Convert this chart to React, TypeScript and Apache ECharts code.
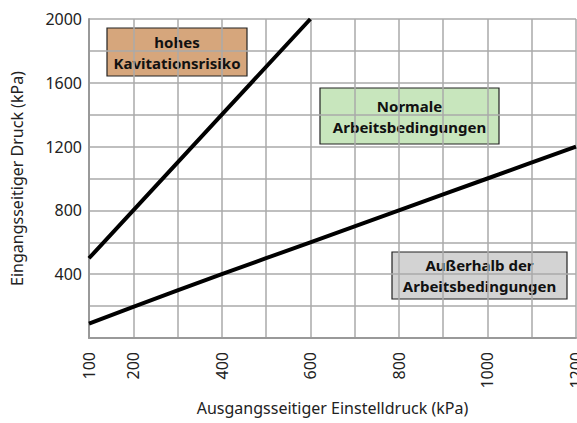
import React, { useEffect, useRef } from "react";
import * as echarts from "echarts";

const xLabels = [100, 200, 400, 600, 800, 1000, 1200];
const yLabels = [400, 800, 1200, 1600, 2000];
const cavitationLine: [number, number][] = [
  [100, 500],
  [200, 800],
  [400, 1400],
  [600, 2000],
];
const lowerLine: [number, number][] = [
  [100, 90],
  [200, 195],
  [400, 400],
  [600, 600],
  [800, 800],
  [1000, 1000],
  [1200, 1200],
];
const xName = "Ausgangsseitiger Einstelldruck (kPa)";
const yName = "Eingangsseitiger Druck (kPa)";
const boxes = [
  { lines: ["hohes", "Kavitationsrisiko"], fill: "#d6a67c", x: 107, y: 28, w: 140, h: 48 },
  { lines: ["Normale", "Arbeitsbedingungen"], fill: "#c8e6bd", x: 320, y: 88, w: 179, h: 56 },
  { lines: ["Außerhalb der", "Arbeitsbedingungen"], fill: "#d3d3d3", x: 392, y: 252, w: 175, h: 47 },
];

const FONT = "'Noto Sans', sans-serif";

export default function App() {
  const ref = useRef<HTMLDivElement>(null);
  useEffect(() => {
    document.body.style.margin = "0";
    const chart = echarts.init(ref.current!, null, { renderer: "svg" });
    const graphics = boxes.map((b) => ({
      type: "group",
      x: b.x,
      y: b.y,
      z: 100,
      children: [
        {
          type: "rect",
          shape: { x: 0, y: 0, width: b.w, height: b.h },
          style: { fill: b.fill, stroke: "#222", lineWidth: 1.2 },
        },
        {
          type: "text",
          x: b.w / 2,
          y: b.h / 2,
          style: {
            text: b.lines.join("\n"),
            align: "center",
            verticalAlign: "middle",
            fill: "#111",
            font: `bold 15px ${FONT}`,
            lineHeight: 21,
          },
        },
      ],
    }));
    chart.setOption({
      animation: false,
      grid: {
        left: 89,
        right: 1,
        top: 19,
        bottom: 85,
        containLabel: false,
        outerBoundsMode: "none",
      },
      xAxis: {
        type: "value",
        min: 100,
        max: 1200,
        interval: 100,
        name: xName,
        nameLocation: "middle",
        nameGap: 62,
        nameTextStyle: { fontFamily: FONT, fontSize: 16, color: "#222" },
        axisLine: { show: true, lineStyle: { color: "#999", width: 2 } },
        axisTick: { show: false },
        axisLabel: {
          rotate: 90,
          margin: 14,
          fontFamily: FONT,
          fontSize: 16,
          color: "#222",
          formatter: (v: number) => (xLabels.includes(v) ? String(v) : ""),
        },
        splitLine: { show: true, lineStyle: { color: "#aaa", width: 1.5 } },
      },
      yAxis: {
        type: "value",
        min: 0,
        max: 2000,
        interval: 200,
        name: yName,
        nameLocation: "middle",
        nameGap: 64,
        nameTextStyle: { fontFamily: FONT, fontSize: 16, color: "#222" },
        axisLine: { show: true, lineStyle: { color: "#999", width: 2 } },
        axisTick: { show: false },
        axisLabel: {
          margin: 7,
          fontFamily: FONT,
          fontSize: 16,
          color: "#222",
          formatter: (v: number) => (yLabels.includes(v) ? String(v) : ""),
        },
        splitLine: { show: true, lineStyle: { color: "#aaa", width: 1.5 } },
      },
      series: [
        {
          type: "line",
          data: cavitationLine,
          showSymbol: false,
          lineStyle: { color: "#000", width: 4 },
          z: 5,
        },
        {
          type: "line",
          data: lowerLine,
          smooth: 0.3,
          showSymbol: false,
          lineStyle: { color: "#000", width: 4 },
          z: 5,
        },
      ],
      graphic: graphics,
    });
    return () => chart.dispose();
  }, []);
  return <div ref={ref} style={{ width: 577, height: 423 }} />;
}
